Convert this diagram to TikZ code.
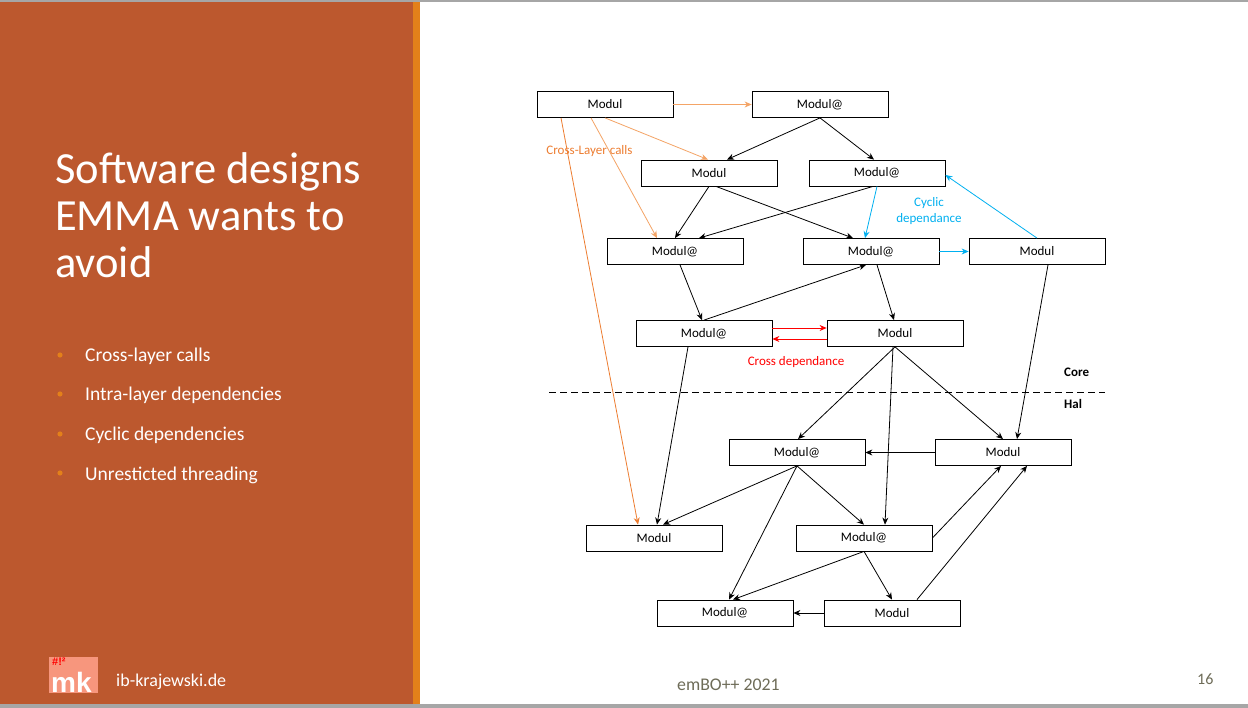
\documentclass[tikz,border=0pt]{standalone}
\usepackage{fontspec}
\setmainfont{Carlito}
\newfontfamily\logofont{Liberation Sans}
\usetikzlibrary{arrows.meta}
\definecolor{panel}{HTML}{BC582E}
\definecolor{bar}{HTML}{E3801A}
\definecolor{frame}{HTML}{A6A6A6}
\definecolor{callorange}{HTML}{F4A466}
\definecolor{layerorange}{HTML}{ED7D31}
\definecolor{cyclic}{HTML}{00B0F0}
\definecolor{footgray}{HTML}{6E6C58}
\definecolor{logo}{HTML}{F7967D}
\tikzset{
  modul/.style={draw, line width=0.8pt, fill=white, minimum width=136pt, minimum height=26pt, inner sep=0pt, font=\fontsize{13}{15}\selectfont},
  dep/.style={->, line width=0.8pt},
  lbl/.style={inner sep=0pt, font=\fontsize{13}{16}\selectfont},
  bullet/.style={inner sep=0pt, anchor=base west, text=white, font=\fontsize{19.5}{22}\selectfont}
}
\begin{document}
\begin{tikzpicture}[x=1pt, y=-1pt, >={Stealth[length=7pt, width=6pt]}]
		\useasboundingbox (0,0) rectangle (1248,708);
		\fill[white] (0,0) rectangle (1248,708);
		\fill[frame] (0,0) rectangle (1248,2);
		\fill[frame] (0,704) rectangle (1248,708);
		\fill[panel] (0,2) rectangle (413,704);
		\fill[bar] (413,2) rectangle (420,704);
		\node[inner sep=0pt, anchor=base west, text=white, font=\fontsize{44.5}{47}\selectfont] (title1) at (55,184) {Software designs};
		\node[inner sep=0pt, anchor=base west, text=white, font=\fontsize{44.5}{47}\selectfont] (title2) at (55,231) {EMMA wants to};
		\node[inner sep=0pt, anchor=base west, text=white, font=\fontsize{44.5}{47}\selectfont] (title3) at (55,278) {avoid};
		\foreach \y/\txt [count=\i] in {362/Cross-layer calls, 401/Intra-layer dependencies, 441/Cyclic dependencies, 480/Unresticted threading} {
			\fill[bar] (60,\y-7) circle (2.6);
			\node[bullet] (bul\i) at (85,\y) {\txt};
		}
		\fill[logo] (49,657) rectangle (98,693);
		\node[inner sep=0pt, anchor=north west, text=red, font=\logofont\fontsize{11}{11}\selectfont\bfseries] (logotop) at (52,658) {\#!²};
		\node[inner sep=0pt, anchor=base west, text=white, font=\logofont\fontsize{28}{28}\selectfont\bfseries] (logomk) at (51,692) {mk};
		\node[inner sep=0pt, anchor=base west, text=white, font=\fontsize{18}{20}\selectfont] (site) at (116,686) {ib-krajewski.de};
		\node[inner sep=0pt, anchor=base west, text=footgray, font=\fontsize{17.8}{20}\selectfont] (conf) at (677,690) {emBO++ 2021};
		\node[inner sep=0pt, anchor=base west, text=footgray, font=\fontsize{16}{18}\selectfont] (page) at (1197,684) {16};
		\draw[dash pattern=on 7pt off 4pt, line width=0.8pt] (549,392) -- (1105,392);
		\node[lbl, anchor=west, font=\fontsize{13}{14}\selectfont\bfseries] (core) at (1064,372) {Core};
		\node[lbl, anchor=west, font=\fontsize{13}{14}\selectfont\bfseries] (hal) at (1064,404) {Hal};
		\node[modul] (mA) at (605,104.5) {Modul};
		\node[modul] (mB) at (820,104.5) {Modul@};
		\node[modul] (mC) at (709,173) {Modul};
		\node[modul] (mD) at (877,173) {Modul@};
		\node[modul] (mE) at (675,251.5) {Modul@};
		\node[modul] (mF) at (871,251.5) {Modul@};
		\node[modul] (mG) at (1037,251.5) {Modul};
		\node[modul] (mH) at (704,333.5) {Modul@};
		\node[modul] (mI) at (895,333.5) {Modul};
		\node[modul] (mJ) at (797,452.5) {Modul@};
		\node[modul] (mK) at (1003,452.5) {Modul};
		\node[modul] (mL) at (654,538) {Modul};
		\node[modul] (mM) at (864,538) {Modul@};
		\node[modul] (mN) at (725,613) {Modul@};
		\node[modul] (mO) at (892,613) {Modul};
		\draw[dep, callorange] (mA.east) -- (mB.west);
		\draw[dep, callorange] (mA.south) -- ([xshift=-1pt]mC.north);
		\draw[dep, callorange] ([xshift=-14pt]mA.south) -- ([xshift=-18pt]mE.north);
		\draw[dep, layerorange] ([xshift=-44pt]mA.south) -- ([xshift=-16pt]mL.north);
		\node[lbl, text=layerorange] (crosslayer) at (589.5,151) {Cross-Layer calls};
		\draw[dep] (mB.south) -- ([xshift=18pt]mC.north);
		\draw[dep] (mB.south) -- ([xshift=-3pt]mD.north);
		\draw[dep] (mC.south) -- (mE.north);
		\draw[dep] ([xshift=7pt]mC.south) -- ([xshift=-18pt]mF.north);
		\draw[dep] ([xshift=-4pt]mD.south) -- ([xshift=24pt]mE.north);
		\draw[dep, cyclic] (mD.south) -- ([xshift=-6pt]mF.north);
		\draw[dep, cyclic] (mF.east) -- (mG.west);
		\draw[dep, cyclic] (mG.north) -- ([yshift=-2pt]mD.east);
		\node[lbl, text=cyclic, align=center] (cyclbl) at (929,211) {Cyclic\\dependance};
		\draw[dep] ([xshift=5pt]mE.south) -- ([xshift=-2pt]mH.north);
		\draw[dep] (mH.north) -- ([xshift=-5pt]mF.south);
		\draw[dep] ([xshift=6pt]mF.south) -- ([xshift=-1pt]mI.north);
		\draw[dep, red] ([yshift=5.5pt]mH.east) -- ([yshift=5.5pt]mI.west);
		\draw[dep, red] ([yshift=-5.5pt]mI.west) -- ([yshift=-5.5pt]mH.east);
		\node[lbl, text=red] (crosslbl) at (796,362) {Cross dependance};
		\draw[dep] (mI.south) -- ([xshift=1pt]mJ.north);
		\draw[dep] (mI.south) -- (mK.north);
		\draw[dep] ([xshift=-2pt]mI.south) -- ([xshift=21pt]mM.north);
		\draw[dep] ([xshift=11pt]mG.south) -- ([xshift=14pt]mK.north);
		\draw[dep] (mK.west) -- (mJ.east);
		\draw[dep] ([xshift=-16pt]mH.south) -- ([xshift=3pt]mL.north);
		\draw[dep] (mJ.south) -- ([xshift=9pt]mL.north);
		\draw[dep] (mJ.south) -- ([xshift=4pt]mN.north);
		\draw[dep] (mJ.south) -- (mM.north);
		\draw[dep] (mM.east) -- ([xshift=-2pt]mK.south);
		\draw[dep] ([xshift=25pt]mO.north) -- ([xshift=24pt]mK.south);
		\draw[dep] (mM.south) -- ([xshift=8pt]mN.north);
		\draw[dep] (mM.south) -- (mO.north);
		\draw[dep] (mO.west) -- (mN.east);
		\end{tikzpicture}
\end{document}
